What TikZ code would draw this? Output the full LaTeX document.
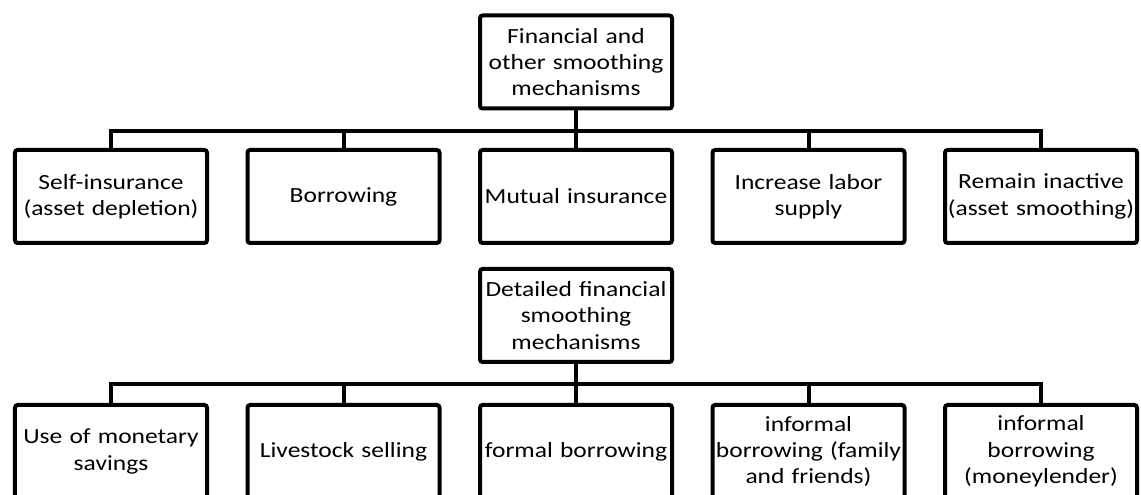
\documentclass[tikz,border=0pt]{standalone}
\usepackage{fontspec}
\setmainfont{Carlito}[FakeStretch=1.18]
\tikzset{mbox/.style={draw,line width=0.08cm,rounded corners=1.5pt,align=center,text width=3.80cm,inner sep=0.02cm,minimum width=3.84cm,minimum height=1.86cm,font=\fontsize{12.3}{15}\selectfont},
  link/.style={line width=0.08cm}}
\begin{document}
\begin{tikzpicture}
\clip (0,0) rectangle (22.82,9.90);
\node[mbox] (fin) at (11.52,8.66) {Financial and\\other smoothing\\mechanisms};
\coordinate (bus1) at (0,7.28);
\node[mbox] (selfins) at (2.22,5.97) {Self-insurance\\(asset depletion)};
\node[mbox] (borrow) at (6.87,5.97) {Borrowing};
\node[mbox] (mutual) at (11.52,5.97) {Mutual insurance};
\node[mbox] (labor) at (16.17,5.97) {Increase labor\\supply};
\node[mbox] (inactive) at (20.82,5.97) {Remain inactive\\(asset smoothing)};
\draw[link] (fin.south) -- (fin.south |- bus1);
\draw[link] (selfins.north) -- (selfins.north |- bus1) -- (inactive.north |- bus1) -- (inactive.north);
\draw[link] (borrow.north) -- (borrow.north |- bus1); \draw[link] (mutual.north) -- (mutual.north |- bus1);
\draw[link] (labor.north) -- (labor.north |- bus1);
\node[mbox] (detail) at (11.52,3.59) {Detailed financial\\smoothing\\mechanisms};
\coordinate (bus2) at (0,2.22);
\node[mbox] (savings) at (2.22,0.87) {Use of monetary\\savings};
\node[mbox] (livestock) at (6.87,0.87) {Livestock selling};
\node[mbox] (formal) at (11.52,0.87) {formal borrowing};
\node[mbox] (family) at (16.17,0.87) {informal\\borrowing (family\\and friends)};
\node[mbox] (lender) at (20.82,0.87) {informal\\borrowing\\(moneylender)};
\draw[link] (detail.south) -- (detail.south |- bus2);
\draw[link] (savings.north) -- (savings.north |- bus2) -- (lender.north |- bus2) -- (lender.north);
\draw[link] (livestock.north) -- (livestock.north |- bus2); \draw[link] (formal.north) -- (formal.north |- bus2);
\draw[link] (family.north) -- (family.north |- bus2);
\end{tikzpicture}
\end{document}
